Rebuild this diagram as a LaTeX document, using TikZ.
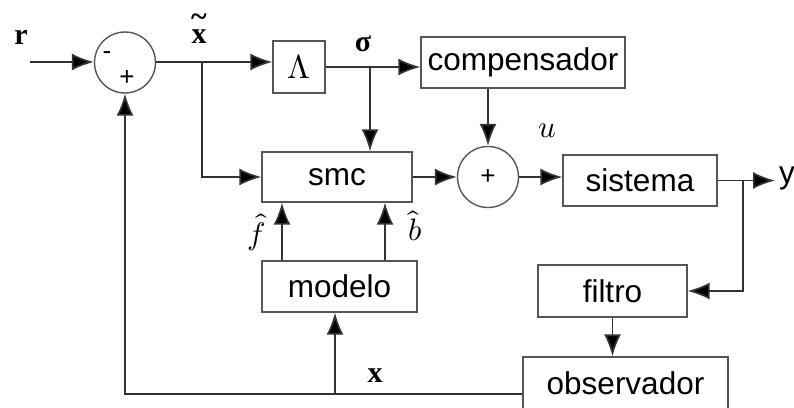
\documentclass[tikz,border=0pt]{standalone}
\usepackage{fontspec}
\usepackage{unicode-math}
\setmathfont{Latin Modern Math}
\setsansfont{Liberation Sans}
\newfontfamily\lblfont{Liberation Serif}
\usetikzlibrary{arrows.meta,calc}
\definecolor{wire}{HTML}{333333}
\definecolor{frame}{HTML}{555555}
\tikzset{
  blk/.style={draw=frame,line width=1.4pt,inner sep=0pt,minimum height=50pt,font=\fontsize{31.5}{36}\sffamily},
  summ/.style={circle,draw=frame,line width=1.4pt,minimum size=61pt,inner sep=0pt},
  sig/.style={draw=wire,line width=1.7pt,-{Latex[length=22pt,width=17pt,fill=black]}},
  lbl/.style={font=\fontsize{30}{34}\lblfont\bfseries,inner sep=0pt},
  mlbl/.style={font=\fontsize{31}{35}\selectfont,inner sep=0pt}
}

\begin{document}
\begin{tikzpicture}[x=1pt,y=-1pt]
  \useasboundingbox (0,0) rectangle (794,407);
  % blocks
  \node[summ] (s1) at (125,62.5) {};
  \node[blk,minimum width=52pt,minimum height=52pt,font=\fontsize{33}{36}\selectfont] (lam) at (299,67) {$\Lambda$};
  \node[blk,minimum width=204pt,minimum height=51pt] (comp) at (523,62.5) {compensador};
  \node[blk,minimum width=150pt] (smc) at (337,177) {smc};
  \node[summ,font=\fontsize{26}{30}\sffamily] (s2) at (488,177) {+};
  \node[blk,minimum width=154pt,minimum height=51pt] (sist) at (640,180.5) {sistema};
  \node[blk,minimum width=149pt,minimum height=52pt] (filt) at (612.5,291) {filtro};
  \node[blk,minimum width=155pt,minimum height=51pt] (mod) at (339.5,286.5) {modelo};
  \node[blk,minimum width=205pt,minimum height=52pt] (obs) at (625.5,383) {observador};
  % labels
  \node[lbl] (rl) at (21,37) {r};
  \node[lbl] (xtl) at (199,28) {\shortstack{\raisebox{-14pt}{\textasciitilde}\\x}};
  \node[lbl] (sgl) at (363,44) {σ};
  \node[mlbl] (ul) at (547,131) {$u$};
  \node[mlbl] (fl) at (256,232) {$\hat{f}$};
  \node[mlbl] (bl) at (415,226) {$\hat{b}$};
  \node[lbl] (xl) at (375,376) {x};
  \node[font=\fontsize{31.5}{36}\sffamily,inner sep=0pt] (yl) at (787,178) {y};
  \node[font=\fontsize{26}{30}\sffamily,inner sep=0pt] (mn) at (107,56) {-};
  \node[font=\fontsize{26}{30}\sffamily,inner sep=0pt] (pl) at (127,78) {+};
  % branch points
  \coordinate (in) at (30,62);
  \coordinate (b1) at (202,62);
  \coordinate (b2) at (370,67);
  \coordinate (b3) at (743,180.5);
  \coordinate (yout) at (775,180.5);
  \coordinate (fb) at (125,394);
  \coordinate (b4) at (335,394);
  % signals
  \draw[sig] (in) -- (in -| s1.west);
  \draw[sig] (s1.east |- in) -- (in -| lam.west);
  \draw[sig] (b1) |- (smc.west);
  \draw[sig] (lam.east) -- (lam.east -| comp.west);
  \draw[sig] (b2) -- (b2 |- smc.north);
  \draw[sig] (comp.south -| s2) -- (s2);
  \draw[sig] (smc) -- (s2);
  \draw[sig] (s2) -- (s2 -| sist.west);
  \draw[sig] (sist.east) -- (yout);
  \draw[sig] (b3) |- (filt.east);
  \draw[sig] (filt.south) -- (filt.south |- obs.north);
  \draw[sig] (obs.west |- fb) -- (fb) -- (s1);
  \draw[sig] (b4) -- (b4 |- mod.south);
  \draw[sig] ([xshift=-57.5pt]mod.north) -- ([xshift=-57.5pt]mod.north |- smc.south);
  \draw[sig] ([xshift=45.5pt]mod.north) -- ([xshift=45.5pt]mod.north |- smc.south);
\end{tikzpicture}
\end{document}
